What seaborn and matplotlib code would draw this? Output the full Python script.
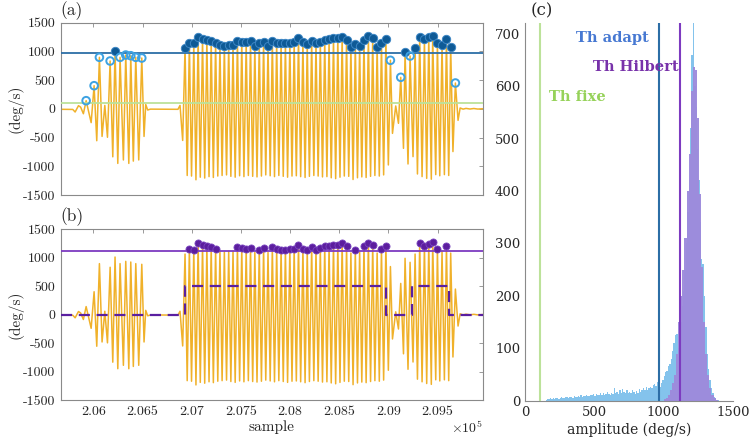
import numpy as np
import pandas as pd
import seaborn as sns
import matplotlib.pyplot as plt
from matplotlib.ticker import FuncFormatter

# thresholds (deg/s)
th_fixe = 105
th_adapt = 965
th_hilbert = 1120

# main crests of the gyro signal (sample index, deg/s)
crest_t = [205926, 206007, 206061, 206170, 206220, 206271, 206329, 206380, 206431, 206492,
           206932, 206976, 207021, 207065, 207110, 207154, 207198, 207243, 207287, 207332,
           207376, 207420, 207465, 207509, 207554, 207598, 207642, 207687, 207731, 207776,
           207820, 207864, 207909, 207953, 207998, 208042, 208086, 208131, 208175, 208220,
           208264, 208308, 208353, 208397, 208442, 208486, 208530, 208575, 208619, 208664,
           208708, 208752, 208797, 208841, 208886, 208930, 208975,
           209021, 209126, 209170, 209221, 209272, 209319, 209367, 209411, 209451, 209499,
           209546, 209591, 209634, 209682]
crest_v = [142, 403, 897, 833, 1013, 897, 937, 925, 897, 885,
           1065, 1152, 1140, 1257, 1216, 1199, 1187, 1152, 1112, 1100,
           1112, 1110, 1187, 1164, 1158, 1175, 1094, 1140, 1164, 1094,
           1181, 1152, 1140, 1140, 1152, 1158, 1233, 1158, 1129, 1181,
           1140, 1170, 1199, 1210, 1227, 1227, 1257, 1199, 1083, 1129,
           1100, 1199, 1262, 1227, 1083, 1152, 1210,
           845, 549, 990, 920, 1065, 1257, 1210, 1245, 1270, 1152,
           1112, 1210, 1082, 450]

# troughs, small wiggles and rest segments
rest_t = [205670, 205790, 205814, 205848, 205870, 205898,
          205977, 206034, 206088, 206116, 206143, 206197, 206248, 206305, 206360, 206406,
          206461, 206515, 206532, 206552, 206580, 206860, 206881, 206908,
          206954, 206998, 207043, 207087, 207132, 207176, 207220, 207265, 207309, 207354,
          207398, 207442, 207487, 207531, 207576, 207620, 207664, 207709, 207753, 207798,
          207842, 207886, 207931, 207975, 208020, 208064, 208108, 208153, 208197, 208242,
          208286, 208330, 208375, 208419, 208464, 208508, 208552, 208597, 208641, 208686,
          208730, 208774, 208819, 208863, 208908, 208952,
          209000, 209042, 209075, 209103, 209154, 209200, 209251, 209296, 209343, 209390,
          209437, 209482, 209523, 209570, 209614, 209657, 209709, 209730, 209760, 209790,
          209830, 209870, 209910, 209960]
rest_v = [-8, -10, -55, 55, 30, -85,
          -240, -555, -480, 60, -495, -835, -950, -890, -950, -910,
          -890, -480, 76, -20, -5, -8, 60, -550,
          -1160, -1170, -1235, -1190, -1205, -1180, -1195, -1170, -1160, -1150,
          -1175, -1190, -1165, -1180, -1160, -1175, -1185, -1170, -1150, -1165,
          -1180, -1160, -1175, -1190, -1170, -1165, -1180, -1195, -1175, -1160,
          -1170, -1185, -1180, -1200, -1215, -1190, -1170, -1175, -1230, -1200,
          -1185, -1195, -1175, -1160, -1170, -1150,
          -977, -427, 50, -252, -688, -960, -832, -1134, -1180, -1210,
          -1225, -1145, -1165, -1145, -1160, -744, -200, 15, -5, 8,
          -3, 6, -4, 2]

# Hilbert detection (movement on / off)
burst_on = [206932, 209240]
burst_off = [208980, 209620]
burst_level = 500

# histograms of peak amplitudes
blue_start, blue_width = 150, 10
blue_counts = [2, 4, 3, 5, 3, 6, 4, 5, 6, 4, 6, 7, 5, 6, 8,
               7, 5, 8, 7, 6, 9, 7, 8, 10, 8, 11, 8, 10, 9, 12,
               10, 9, 12, 11, 13, 10, 14, 12, 11, 15, 12, 16, 12, 14, 18,
               14, 12, 16, 13, 24, 15, 17, 14, 20, 16, 22, 17, 15, 20, 16,
               18, 15, 21, 17, 14, 19, 16, 23, 18, 20, 24, 21, 26, 20, 24,
               27, 24, 30, 33, 28, 36,
               30, 27, 34, 40, 47, 55, 58, 66, 70,
               80, 95, 110, 125, 128,
               100, 120, 150, 180, 210,
               250, 300, 360, 420, 520,
               660, 725, 600, 560, 480,
               420, 340, 270, 260, 200,
               140, 90, 60, 40, 25,
               15, 8, 4, 2, 1]
purple_start, purple_width = 1000, 15
purple_counts = [3, 6, 12, 20, 35, 50, 90, 150, 200, 250, 310, 400, 470,
                 590, 636, 630, 540, 395, 255, 150, 90, 50, 25, 12, 5, 2]

orange = '#F0B12A'
c_adapt = '#2C6EA6'
c_fixe = '#BCE29A'
c_hilb = '#7D3BC0'
c_dot_a = '#0E5A96'
c_open = '#3DA2E2'
c_dot_b = '#5C1E9E'

sns.set_style('white')
plt.rcParams['font.family'] = ['cmr10', 'DejaVu Serif']
plt.rcParams['mathtext.fontset'] = 'cm'
plt.rcParams['axes.unicode_minus'] = False
plt.rcParams['axes.formatter.use_mathtext'] = True

sig = pd.DataFrame({'t': crest_t + rest_t, 'v': crest_v + rest_v}).sort_values('t')
crest = pd.DataFrame({'t': crest_t, 'v': crest_v})

fig = plt.figure(figsize=(7.49, 4.45), dpi=100)
ax_a = fig.add_axes([0.0814, 0.5618, 0.5631, 0.3872])
ax_b = fig.add_axes([0.0814, 0.1011, 0.5631, 0.3836])
ax_c = fig.add_axes([0.7009, 0.0989, 0.2777, 0.8494])


def style_left(ax, show_x):
    ax.set_xlim(205670, 209960)
    ax.set_ylim(-1500, 1500)
    ax.set_xticks(range(206000, 209501, 500))
    ax.set_yticks(range(-1500, 1501, 500))
    ax.yaxis.set_major_formatter(FuncFormatter(lambda v, p: f'{v:.0f}'))
    ax.xaxis.set_major_formatter(FuncFormatter(lambda v, p: f'{v / 1e5:g}'))
    ax.tick_params(direction='in', length=3, width=0.6, color='#8a8a8a',
                   top=True, right=True, labelsize=10, labelbottom=show_x, pad=4)
    for s in ax.spines.values():
        s.set_color('#8a8a8a')
        s.set_linewidth(0.8)
    ax.set_ylabel('(deg/s)', fontsize=11, labelpad=0)
    ax.set_xlabel('sample' if show_x else '', fontsize=11, labelpad=2)


# (a) adaptive threshold
sns.lineplot(data=sig, x='t', y='v', ax=ax_a, color=orange, lw=1.1, estimator=None, zorder=2)
ax_a.axhline(th_adapt, color=c_adapt, lw=1.3, zorder=3)
ax_a.axhline(th_fixe, color=c_fixe, lw=1.3, zorder=3)
above = crest[crest.v >= th_adapt]
between = crest[(crest.v > th_fixe) & (crest.v < th_adapt)]
sns.scatterplot(data=above, x='t', y='v', ax=ax_a, s=36, color=c_dot_a,
                edgecolor='#3C86C4', linewidth=0.7, zorder=4)
sns.scatterplot(data=between, x='t', y='v', ax=ax_a, s=30, color=c_open,
                linewidth=1.4, zorder=4)
ax_a.collections[-1].set_facecolor('none')
ax_a.collections[-1].set_edgecolor(c_open)
style_left(ax_a, False)

# (b) Hilbert threshold
sns.lineplot(data=sig, x='t', y='v', ax=ax_b, color=orange, lw=1.1, estimator=None, zorder=2)
ax_b.axhline(th_hilbert, color=c_hilb, lw=1.3, zorder=3)
step_t = [205670]
step_v = [0]
for on, off in zip(burst_on, burst_off):
    step_t += [on, on, off, off]
    step_v += [0, burst_level, burst_level, 0]
step_t.append(209960)
step_v.append(0)
ax_b.plot(step_t, step_v, color='#5A1FA0', lw=1.6, ls=(0, (5, 3)), zorder=3)
sns.scatterplot(data=crest[crest.v > th_hilbert], x='t', y='v', ax=ax_b, s=26,
                color=c_dot_b, edgecolor='#7A45C0', linewidth=0.6, zorder=4)
style_left(ax_b, True)
fig.text(482.7 / 749, 1 - 428 / 445, r'$\times10^5$', ha='right', va='center', fontsize=10)

# (c) histograms
blue_edges = [float(e) for e in blue_start + blue_width * np.arange(len(blue_counts) + 1)]
purple_edges = [float(e) for e in purple_start + purple_width * np.arange(len(purple_counts) + 1)]
blue_df = pd.DataFrame({'amp': np.array(blue_edges[:-1]) + blue_width / 2, 'n': blue_counts})
purple_df = pd.DataFrame({'amp': np.array(purple_edges[:-1]) + purple_width / 2, 'n': purple_counts})
sns.histplot(data=blue_df, x='amp', weights='n', bins=blue_edges,
             ax=ax_c, color='#84C3EC', alpha=1, linewidth=0, zorder=1)
sns.histplot(data=purple_df, x='amp', weights='n', bins=purple_edges,
             ax=ax_c, color='#9D8BDC', alpha=0.97, linewidth=0, zorder=2)
ax_c.axvline(th_fixe, color=c_fixe, lw=1.5, zorder=3)
ax_c.axvline(th_adapt, color=c_adapt, lw=1.5, zorder=3)
ax_c.axvline(th_hilbert, color=c_hilb, lw=1.5, zorder=3)
ax_c.set_xlim(0, 1500)
ax_c.set_ylim(0, 720)
ax_c.set_xticks([0, 500, 1000, 1500])
ax_c.set_xticklabels(['0', '500', '1000', '1500'])
ax_c.set_yticks(range(0, 701, 100))
ax_c.set_yticklabels([str(v) for v in range(0, 701, 100)])
ax_c.tick_params(direction='in', length=3, width=0.6, color='#8a8a8a', labelsize=9.5)
for lbl in ax_c.get_xticklabels() + ax_c.get_yticklabels():
    lbl.set_fontfamily('DejaVu Serif')
ax_c.spines['top'].set_visible(False)
ax_c.spines['right'].set_visible(False)
for s in ['left', 'bottom']:
    ax_c.spines[s].set_color('#8a8a8a')
    ax_c.spines[s].set_linewidth(0.8)
ax_c.set_ylabel('')
ax_c.set_xlabel('amplitude (deg/s)', fontsize=10, fontfamily='DejaVu Serif', labelpad=3)

fig.text(612 / 749, 1 - 38 / 445, 'Th adapt', color='#4678D2', fontsize=10.5,
         fontweight='bold', fontfamily='DejaVu Serif', ha='center', va='center')
fig.text(636 / 749, 1 - 67 / 445, 'Th Hilbert', color='#7832AA', fontsize=10.5,
         fontweight='bold', fontfamily='DejaVu Serif', ha='center', va='center')
fig.text(577 / 749, 1 - 97 / 445, 'Th fixe', color='#96D25A', fontsize=10.5,
         fontweight='bold', fontfamily='DejaVu Serif', ha='center', va='center')

# panel letters
fig.text(72 / 749, 1 - 11 / 445, '(a)', fontsize=12.5, ha='center', va='center')
fig.text(72 / 749, 1 - 217 / 445, '(b)', fontsize=12.5, ha='center', va='center')
fig.text(542 / 749, 1 - 11 / 445, '(c)', fontsize=12, fontfamily='DejaVu Serif',
         ha='center', va='center')

fig.savefig('out.png', dpi=100)
